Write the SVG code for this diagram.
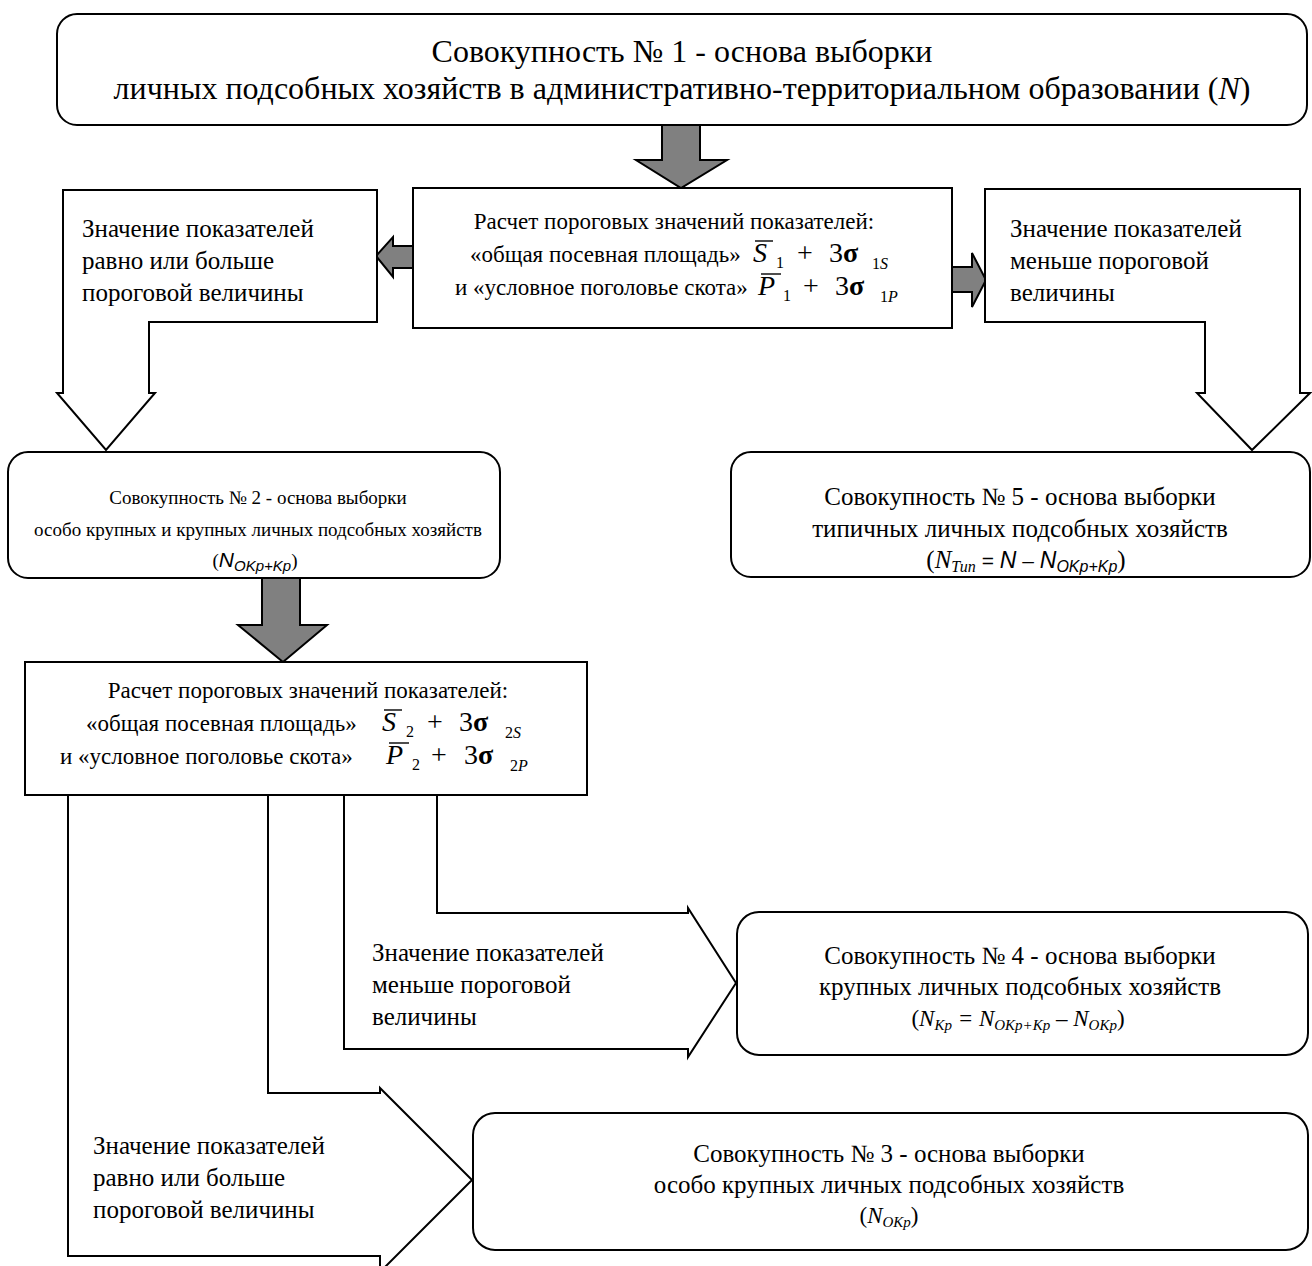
<svg xmlns="http://www.w3.org/2000/svg" width="1312" height="1266" viewBox="0 0 1312 1266">
<style>
.box{fill:#fff;stroke:#000;stroke-width:2}
.gray{fill:#808080;stroke:#000;stroke-width:2;stroke-linejoin:miter}
.conn{fill:#fff;stroke:#000;stroke-width:2;stroke-linejoin:miter}
.bar{stroke:#000;stroke-width:1.4}
text{font-family:"Liberation Serif","Times New Roman",serif;font-size:25px;fill:#000}
.c{text-anchor:middle}
.big{font-size:32px}
.mid{font-size:23px}
.sm{font-size:19px}
.it{font-style:italic}
.sans{font-family:"Liberation Sans",Arial,sans-serif}
.f{font-size:28px}
.sub{font-size:16px}
.sub2{font-size:15px}
.sig{font-size:28px;font-weight:bold}
.eq{font-size:23px}
</style>
<rect width="1312" height="1266" fill="#fff"/>
<g id="connectors">
<polygon class="gray" points="662,125 700,125 700,160 727,160 681,188 636,160 662,160"/>
<polygon class="gray" points="413,246 393,246 393,237 376,256 393,277 393,268 413,268"/>
<polygon class="gray" points="948,267 972,267 972,253 986,280 972,307 972,292 948,292"/>
<polygon class="gray" points="262,578 300,578 300,625 327,625 283,662 238,625 262,625"/>
<polygon class="conn" points="63,190 377,190 377,322 149,322 149,393 155,393 106,450 57,393 63,393"/>
<polygon class="conn" points="985,189 1300,189 1300,393 1310,393 1252,450 1197,393 1205,393 1205,322 985,322"/>
<polygon class="conn" points="344,795 437,795 437,913 688,913 688,908 736,983 688,1057 688,1049 344,1049"/>
<polygon class="conn" points="68,795 268,795 268,1093 380,1093 380,1088 472,1180 380,1272 380,1256 68,1256"/>
</g>
<g id="n1">
<rect class="box" x="57" y="14" width="1250" height="111" rx="20"/>
<text class="c big" x="682" y="62">Совокупность № 1 - основа выборки</text>
<text class="c big" x="682" y="99">личных подсобных хозяйств в административно-территориальном образовании (<tspan class="it">N</tspan>)</text>
</g>
<g id="calc1">
<rect class="box" x="413" y="188" width="539" height="140"/>
<text class="c mid" x="674" y="229">Расчет пороговых значений показателей:</text>
<text class="mid" x="470" y="262">«общая посевная площадь»</text>
<text class="f it" x="753" y="262">S</text>
<line class="bar" x1="755" y1="241" x2="773" y2="241"/>
<text class="sub" x="776" y="268">1</text>
<text class="f" x="797" y="262">+</text>
<text class="f" x="829" y="262">3</text>
<text class="sig" x="843" y="262">σ</text>
<text class="sub" x="872" y="269">1<tspan class="it">S</tspan></text>
<text class="mid" x="455" y="295">и «условное поголовье скота»</text>
<text class="f it" x="758" y="295">P</text>
<line class="bar" x1="761" y1="274" x2="781" y2="274"/>
<text class="sub" x="783" y="301">1</text>
<text class="f" x="803" y="295">+</text>
<text class="f" x="835" y="295">3</text>
<text class="sig" x="849" y="295">σ</text>
<text class="sub" x="880" y="302">1<tspan class="it">P</tspan></text>
</g>
<g id="labelL">
<text x="82" y="237">Значение показателей</text>
<text x="82" y="269">равно или больше</text>
<text x="82" y="301">пороговой величины</text>
</g>
<g id="labelR">
<text x="1010" y="237">Значение показателей</text>
<text x="1010" y="269">меньше пороговой</text>
<text x="1010" y="301">величины</text>
</g>
<g id="n2">
<rect class="box" x="8" y="452" width="492" height="126" rx="20"/>
<text class="c sm" x="258" y="504">Совокупность № 2 - основа выборки</text>
<text class="c sm" x="258" y="536">особо крупных и крупных личных подсобных хозяйств</text>
<text class="c sm" x="255" y="567">(<tspan class="sans it" style="font-size:21px">N</tspan><tspan class="sans it sub2" dy="4">OKp+Kp</tspan><tspan dy="-4">)</tspan></text>
</g>
<g id="n5">
<rect class="box" x="731" y="452" width="579" height="125" rx="20"/>
<text class="c" x="1020" y="505">Совокупность № 5 - основа выборки</text>
<text class="c" x="1020" y="537">типичных личных подсобных хозяйств</text>
<text class="c" x="1026" y="568">(<tspan class="it">N</tspan><tspan class="it sub" dy="4">Тип</tspan><tspan class="sans" dy="-4" style="font-size:21px"> = </tspan><tspan class="sans it" style="font-size:23px">N</tspan><tspan class="sans" style="font-size:21px"> – </tspan><tspan class="sans it" style="font-size:23px">N</tspan><tspan class="sans it sub" dy="4">OKp+Kp</tspan><tspan dy="-4">)</tspan></text>
</g>
<g id="calc2">
<rect class="box" x="25" y="662" width="562" height="133"/>
<text class="c mid" x="308" y="698">Расчет пороговых значений показателей:</text>
<text class="mid" x="86" y="731">«общая посевная площадь»</text>
<text class="f it" x="382" y="731">S</text>
<line class="bar" x1="384" y1="710" x2="402" y2="710"/>
<text class="sub" x="406" y="737">2</text>
<text class="f" x="427" y="731">+</text>
<text class="f" x="459" y="731">3</text>
<text class="sig" x="473" y="731">σ</text>
<text class="sub" x="505" y="738">2<tspan class="it">S</tspan></text>
<text class="mid" x="60" y="764">и «условное поголовье скота»</text>
<text class="f it" x="386" y="764">P</text>
<line class="bar" x1="389" y1="743" x2="409" y2="743"/>
<text class="sub" x="412" y="770">2</text>
<text class="f" x="431" y="764">+</text>
<text class="f" x="464" y="764">3</text>
<text class="sig" x="478" y="764">σ</text>
<text class="sub" x="510" y="771">2<tspan class="it">P</tspan></text>
</g>
<g id="labelB">
<text x="372" y="961">Значение показателей</text>
<text x="372" y="993">меньше пороговой</text>
<text x="372" y="1025">величины</text>
</g>
<g id="n4">
<rect class="box" x="737" y="912" width="571" height="143" rx="22"/>
<text class="c" x="1020" y="964">Совокупность № 4 - основа выборки</text>
<text class="c" x="1020" y="995">крупных личных подсобных хозяйств</text>
<text class="c eq" x="1018" y="1026">(<tspan class="it">N</tspan><tspan class="it sub2" dy="4">Kp</tspan><tspan class="it" dy="-4"> = N</tspan><tspan class="it sub2" dy="4">OKp+Kp</tspan><tspan class="it" dy="-4"> – N</tspan><tspan class="it sub2" dy="4">OKp</tspan><tspan dy="-4">)</tspan></text>
</g>
<g id="labelA">
<text x="93" y="1154">Значение показателей</text>
<text x="93" y="1186">равно или больше</text>
<text x="93" y="1218">пороговой величины</text>
</g>
<g id="n3">
<rect class="box" x="473" y="1113" width="835" height="137" rx="22"/>
<text class="c" x="889" y="1162">Совокупность № 3 - основа выборки</text>
<text class="c" x="889" y="1193">особо крупных личных подсобных хозяйств</text>
<text class="c eq" x="889" y="1223">(<tspan class="it">N</tspan><tspan class="it sub2" dy="4">OKp</tspan><tspan dy="-4">)</tspan></text>
</g>
</svg>
